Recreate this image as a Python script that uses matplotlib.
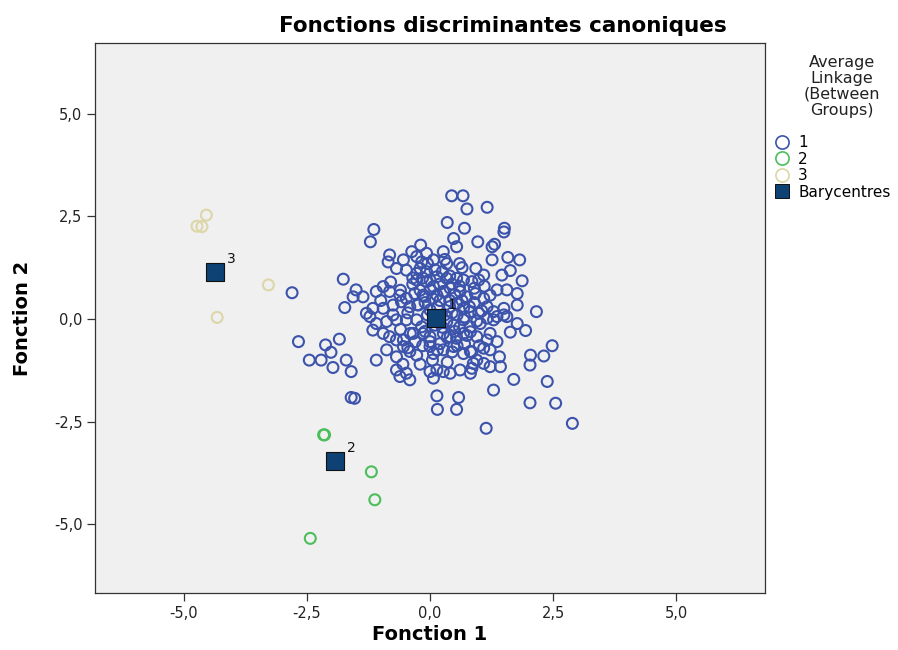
import numpy as np
import matplotlib.pyplot as plt
from matplotlib.lines import Line2D

plt.rcParams['font.family'] = ['DejaVu Sans']

# group 1 (Fonction 1, Fonction 2)
g1_x = [0.44, 0.67, 0.75, 1.16, 0.35, 0.70, 1.51, 1.50, -1.14, -1.21, 0.48, 0.54, 0.97, 1.26, 1.31,
        -0.19, -0.82, -0.85, -0.37, -0.27, 0.27, 1.26, 1.58, 1.82, 0.93, 1.46, 1.63, 1.87, -1.76, -2.80,
        -1.50, -1.56, -1.09, 1.77, -1.73, 2.16, 1.94, 1.63, -2.67, -2.12, -2.01, -1.84, -2.45, -2.21, -1.97,
        -1.70, -1.60, -1.09, 2.48, 2.04, 2.31, 2.03, 1.41, 1.43, 0.95, 0.88, 1.70, 2.38, 1.29, -1.60,
        -1.53, 0.14, 0.58, 0.15, 0.54, 2.03, 2.55, 1.14, 2.89,
        -0.54, -0.07, 0.07, 0.34, -0.20, -0.17,
        -0.68, -0.48, -0.27, -0.07, 0.14, 0.34, 0.54, 0.68, 0.85, 0.99, 1.09, -0.27, -0.07, 0.07,
        -1.36, -0.95, -0.82, -0.61, -0.48, -0.31, -0.14, 0.00, 0.14, 0.27, 0.41, 0.61, 0.75, 0.92, 1.09,
        1.22, 1.36, 1.56,
        -1.29, -1.16, -0.95, -0.75, -0.58, -0.41, -0.24, 0.00, 0.54, 0.68, 0.82, 0.99, 1.16, 1.29, 1.50,
        1.56, 1.36, 1.77,
        -1.22, -1.09, -0.88, -0.68, -0.48, -0.27, -0.17, 0.34, 0.48, 0.68, 0.82, 1.02, 1.16, 1.29, 1.50, 1.77,
        -1.16, -0.95, -0.82, -0.68, -0.54, -0.34, -0.14, 0.00, 0.27, 0.41, 0.54, 0.68, 0.82, 0.95, 1.16,
        1.36, 1.22,
        -0.88, -0.68, -0.54, -0.41, -0.27, 0.00, 0.07, 0.27, 0.48, 0.68, 0.82, 1.09, 1.22,
        -0.68, -0.61, -0.48, -0.41, 0.00, 0.07, 0.14, 0.27, 0.41, 0.61, 0.82, 1.09, 1.22,
        -0.35, -0.10, 0.20, 0.40, 0.10, -0.05, 0.30, 0.55, -0.45, -0.60, -0.30, 0.20, 0.45, 0.25,
        -0.15, 0.60, 0.45, -0.20, 0.35, -0.80, -1.00, 0.90, 1.10, 0.70, -0.55, 0.05, 0.65, 0.85,
        -0.20, 0.00, 0.20, 0.50, 0.65, 0.80, -0.10, 0.30, 0.15, 0.45, 0.70, 0.95, 0.25, -0.10,
        0.50, 0.75, 0.60, 0.40, 0.10, -0.35, -0.25, 0.05, 0.35, 0.15, -0.15, 0.90, 1.05, 0.55,
        -0.40, -0.60, -0.75, 0.20, 0.00, 0.85, 0.60, -0.05, 0.30, -0.45, 1.00, 0.40]
g1_y = [3.00, 3.00, 2.68, 2.72, 2.35, 2.21, 2.21, 2.12, 2.18, 1.88, 1.96, 1.76, 1.88, 1.76, 1.82,
        1.80, 1.56, 1.39, 1.64, 1.52, 1.64, 1.44, 1.50, 1.44, 1.23, 1.07, 1.18, 0.93, 0.97, 0.64,
        0.71, 0.54, 0.67, 0.62, 0.28, 0.18, -0.28, -0.32, -0.55, -0.63, -0.81, -0.49, -1.00, -1.00, -1.18,
        -1.00, -1.28, -1.00, -0.65, -0.88, -0.90, -1.12, -0.92, -1.16, -1.00, -1.08, -1.47, -1.52, -1.73, -1.91,
        -1.93, -1.87, -1.91, -2.20, -2.20, -2.04, -2.05, -2.66, -2.54,
        1.44, 1.60, 1.44, 1.35, 1.23, 1.39,
        1.23, 1.19, 1.11, 1.15, 1.03, 0.99, 0.99, 0.95, 0.91, 0.95, 1.07, 0.95, 0.91, 0.79,
        0.54, 0.79, 0.67, 0.58, 0.50, 0.62, 0.58, 0.71, 0.58, 0.67, 0.75, 0.67, 0.54, 0.62, 0.50,
        0.58, 0.71, 0.71,
        0.14, 0.26, 0.26, 0.34, 0.42, 0.30, 0.34, 0.22, 0.38, 0.26, 0.18, 0.14, 0.30, 0.18, 0.26,
        0.06, 0.06, 0.34,
        0.06, -0.11, -0.06, -0.02, -0.02, -0.02, -0.19, -0.06, -0.15, -0.02, -0.19, -0.11, 0.02, -0.02, 0.10, -0.11,
        -0.27, -0.35, -0.43, -0.51, -0.51, -0.35, -0.35, -0.43, -0.35, -0.43, -0.47, -0.35, -0.31, -0.43, -0.51,
        -0.55, -0.35,
        -0.75, -0.92, -0.67, -0.79, -0.88, -0.67, -0.84, -0.75, -0.67, -0.84, -0.79, -0.71, -0.75,
        -1.24, -1.40, -1.32, -1.48, -1.28, -1.44, -1.24, -1.28, -1.32, -1.24, -1.32, -1.08, -1.16,
        0.85, 0.40, 0.45, 0.30, -0.15, 0.10, 0.10, 0.10, 0.15, -0.25, -0.55, -0.60, 0.85, 1.15,
        1.00, -0.20, -0.80, -1.10, -1.05, 0.90, 0.45, 0.40, 0.80, -0.60, -1.10, -1.00, 1.25, -1.20,
        0.70, 0.95, 0.85, 0.60, 0.45, 0.30, 0.55, 0.65, 0.30, 0.15, 0.05, -0.05, -0.20, -0.30,
        -0.30, -0.40, 0.80, 1.05, 1.20, 1.00, 0.35, 0.50, -0.45, -0.75, -0.65, 0.75, 0.20, -0.65,
        -0.35, 0.70, 0.10, 0.05, -0.55, -0.80, 1.35, 1.35, 1.45, -0.70, -0.65, 0.45]

# group 2
g2_x = [-2.16, -2.14, -1.19, -1.12, -2.43]
g2_y = [-2.82, -2.82, -3.72, -4.40, -5.34]

# group 3
g3_x = [-4.54, -4.73, -4.63, -3.28, -4.32]
g3_y = [2.53, 2.26, 2.25, 0.83, 0.04]

# barycentres
bary_x = [0.12, -1.93, -4.37]
bary_y = [0.03, -3.45, 1.15]
bary_lab = ['1', '2', '3']

c1, c2, c3, cb = '#3c53ac', '#4cbe5c', '#dcd6a8', '#0e4174'

W, H = 898, 650
fig = plt.figure(figsize=(W / 100, H / 100), dpi=100)
ax = fig.add_axes([95 / W, 57 / H, 670 / W, 550 / H])
ax.set_facecolor('#f0f0f0')

ax.scatter(g1_x, g1_y, s=62, facecolors='none', edgecolors=c1, linewidths=1.5, zorder=2)
ax.scatter(g2_x, g2_y, s=62, facecolors='none', edgecolors=c2, linewidths=1.5, zorder=2)
ax.scatter(g3_x, g3_y, s=62, facecolors='none', edgecolors=c3, linewidths=1.5, zorder=2)
ax.scatter(bary_x, bary_y, s=175, marker='s', facecolors=cb, edgecolors='#111111', linewidths=0.8, zorder=3)
for bx, by, t in zip(bary_x, bary_y, bary_lab):
    ax.annotate(t, (bx, by), xytext=(8.5, 6.5), textcoords='offset points', fontsize=10,
                color='#111111', zorder=4)

ax.set_xlim(-6.8, 6.8)
ax.set_ylim(-6.67, 6.72)
ticks = [-5.0, -2.5, 0.0, 2.5, 5.0]
ax.set_xticks(ticks)
ax.set_yticks(ticks)
lab = [f'{t:.1f}'.replace('.', ',') for t in ticks]
ax.set_xticklabels(lab, fontsize=10.5, color='#222222')
ax.set_yticklabels(lab, fontsize=10.5, color='#222222')
ax.tick_params(direction='out', length=6, width=0.9, color='#333333', pad=3)
for sp in ax.spines.values():
    sp.set_color('#333333')
    sp.set_linewidth(0.9)

fig.text(430 / W, 1 - 634 / H, 'Fonction 1', fontsize=14, fontweight='bold', ha='center', va='center')
fig.text(23 / W, 1 - 318 / H, 'Fonction 2', fontsize=14, fontweight='bold', ha='center', va='center',
         rotation=90)
fig.text(503 / W, 1 - 26 / H, 'Fonctions discriminantes canoniques', fontsize=15.5, fontweight='bold',
         ha='center', va='center')

# legend
fig.text(842 / W, 1 - 55 / H, 'Average\nLinkage\n(Between\nGroups)', fontsize=11.5, color='#222222',
         ha='center', va='top', linespacing=1.08, multialignment='center')
handles = [Line2D([], [], marker='o', linestyle='none', markersize=9.5, markerfacecolor='none',
                  markeredgecolor=c, markeredgewidth=1.2) for c in (c1, c2, c3)]
handles.append(Line2D([], [], marker='s', linestyle='none', markersize=9.5, markerfacecolor=cb,
                      markeredgecolor='#111111', markeredgewidth=0.7))
fig.legend(handles, ['1', '2', '3', 'Barycentres'], loc='upper left',
           bbox_to_anchor=(773 / W, 1 - 135 / H), frameon=False, fontsize=11,
           handlelength=1.2, handletextpad=0.45, labelspacing=0.1, borderpad=0, borderaxespad=0)

fig.savefig('out.png', dpi=100, facecolor='white')
